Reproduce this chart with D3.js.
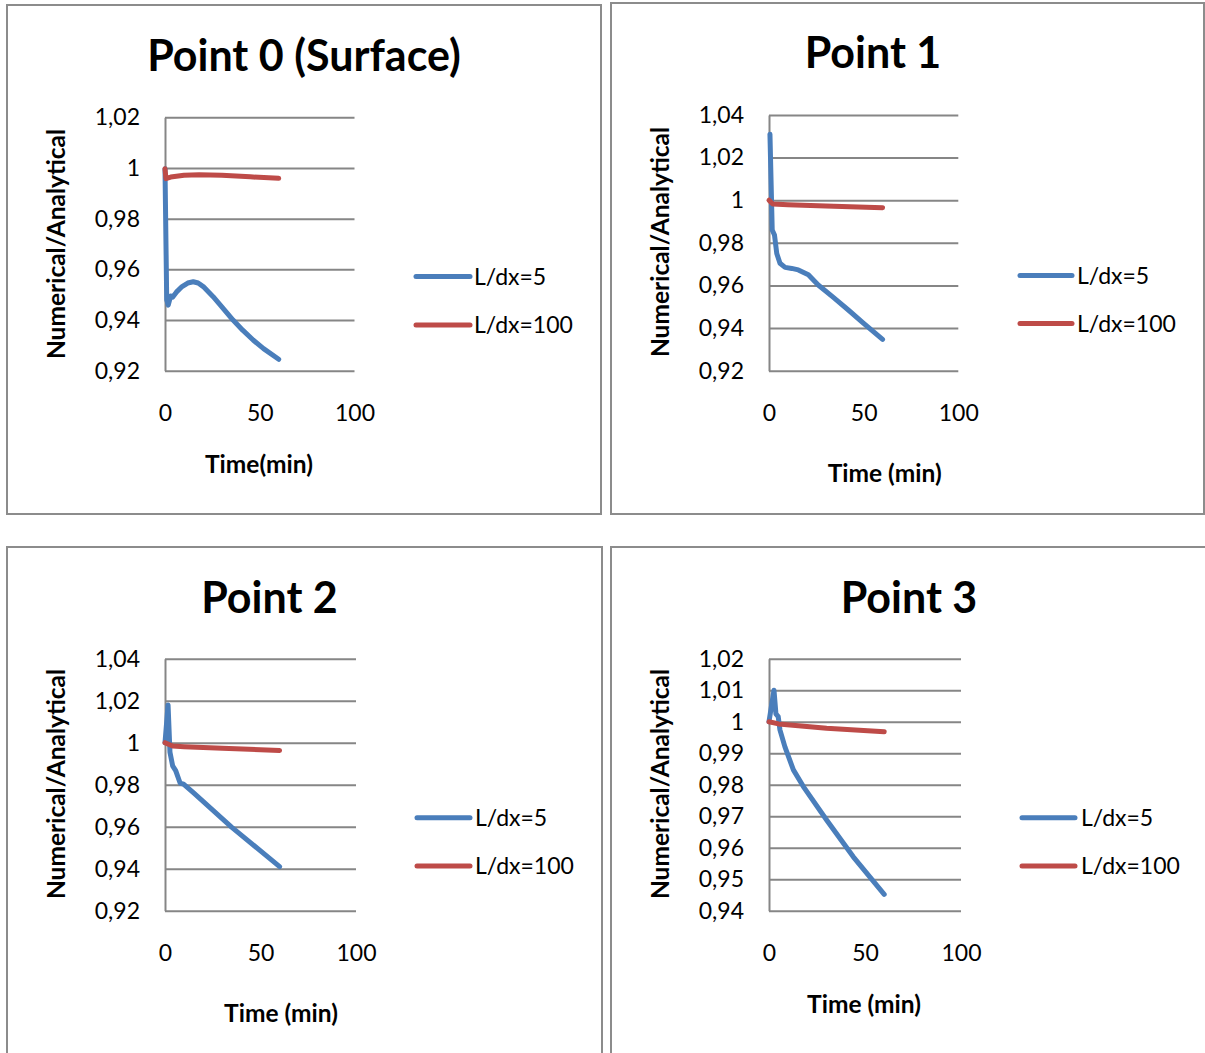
<!DOCTYPE html>
<html>
<head>
<meta charset="utf-8">
<script src="https://cdn.jsdelivr.net/npm/d3@7"></script>
<style>
  html, body { margin: 0; padding: 0; background: #fff; }
  svg { display: block; font-family: Lato, "Open Sans", sans-serif; }
</style>
</head>
<body>
<svg id="chart" width="1205" height="1053"></svg>
<script>
// ---- Data: ratio of numerical to analytical solution over time (min) ----
const seriesNames = ["L/dx=5", "L/dx=100"];
const xTicks = [0, 50, 100];

// Point 0 (Surface)
const p0Time5   = [0, 0.9, 1.7, 3, 4, 6, 9, 12, 14.9, 17.5, 20.2, 25.4, 30, 35.9, 41, 46.5, 52, 60];
const p0Ratio5  = [0.9997, 0.9480, 0.9459, 0.9495, 0.9490, 0.9510, 0.9532, 0.9546, 0.9551, 0.9546, 0.9532, 0.9492, 0.9452, 0.9400, 0.9360, 0.9321, 0.9287, 0.9245];
const p0Time100  = [0, 0.5, 3, 10, 18, 30, 45, 60];
const p0Ratio100 = [0.9997, 0.9958, 0.9964, 0.9971, 0.9973, 0.9971, 0.9965, 0.9959];
const p0YTicks = [0.92, 0.94, 0.96, 0.98, 1.00, 1.02];

// Point 1
const p1Time5   = [0.5, 1.7, 2.9, 4.1, 5.8, 8.5, 12, 15.5, 20.8, 26, 34, 41.9, 50, 60];
const p1Ratio5  = [1.031, 0.986, 0.9837, 0.975, 0.9704, 0.9685, 0.9680, 0.9673, 0.965, 0.9602, 0.9544, 0.9485, 0.9422, 0.9347];
const p1Time100  = [0, 2, 10, 30, 60];
const p1Ratio100 = [1.0, 0.9982, 0.9979, 0.9973, 0.9965];
const p1YTicks = [0.92, 0.94, 0.96, 0.98, 1.00, 1.02, 1.04];

// Point 2
const p2Time5   = [0, 1.6, 2.6, 4, 5.6, 7.9, 9.7, 14.7, 35, 60];
const p2Ratio5  = [1.0, 1.018, 0.9954, 0.989, 0.9867, 0.9808, 0.9803, 0.9763, 0.9597, 0.941];
const p2Time100  = [0, 4, 10, 30, 60];
const p2Ratio100 = [1.0, 0.9984, 0.9981, 0.9974, 0.9963];
const p2YTicks = [0.92, 0.94, 0.96, 0.98, 1.00, 1.02, 1.04];

// Point 3
const p3Time5   = [0, 2.6, 3.6, 4.8, 5.7, 8.3, 12.7, 17.9, 30, 43.9, 60];
const p3Ratio5  = [1.0, 1.0100, 1.0025, 1.0016, 0.9974, 0.992, 0.9847, 0.9794, 0.9688, 0.9571, 0.9452];
const p3Time100  = [0, 5, 30, 60];
const p3Ratio100 = [1.0, 0.9993, 0.9979, 0.9968];
const p3YTicks = [0.94, 0.95, 0.96, 0.97, 0.98, 0.99, 1.00, 1.01, 1.02];

// ---- Panel definitions (data) ----
const panels = [
  { title: "Point 0 (Surface)", xTitle: "Time(min)", yTicks: p0YTicks,
    series: [[p0Time5, p0Ratio5], [p0Time100, p0Ratio100]] },
  { title: "Point 1", xTitle: "Time (min)", yTicks: p1YTicks,
    series: [[p1Time5, p1Ratio5], [p1Time100, p1Ratio100]] },
  { title: "Point 2", xTitle: "Time (min)", yTicks: p2YTicks,
    series: [[p2Time5, p2Ratio5], [p2Time100, p2Ratio100]] },
  { title: "Point 3", xTitle: "Time (min)", yTicks: p3YTicks,
    series: [[p3Time5, p3Ratio5], [p3Time100, p3Ratio100]] }
];

// ---- Layout of each chart box ----
const layout = [
  { box: [7, 5, 594, 509],   plot: [165, 117.3, 354.5, 370.7], titleX: 304, titleY: 71,
    yTitleX: 65, yTitleY: 244, xTitleX: 259, xTitleY: 473,
    legX: [416, 470], legY: [276.5, 325], legTextX: 474 },
  { box: [611, 3, 593, 511], plot: [769, 115, 958.3, 370.7], titleX: 873, titleY: 68.3,
    yTitleX: 669, yTitleY: 242, xTitleX: 884.7, xTitleY: 481.7,
    legX: [1020, 1072], legY: [275.5, 323.5], legTextX: 1077 },
  { box: [7, 547, 595, 530], plot: [165, 658.7, 356, 910.7], titleX: 269.5, titleY: 612.7,
    yTitleX: 65, yTitleY: 784, xTitleX: 281, xTitleY: 1021.7,
    legX: [417, 470], legY: [817.7, 866], legTextX: 475 },
  { box: [611, 547, 620, 530], plot: [769, 658.7, 961, 910.7], titleX: 909, titleY: 612.7,
    yTitleX: 669, yTitleY: 784, xTitleX: 864, xTitleY: 1013.3,
    legX: [1022, 1075], legY: [817.7, 866], legTextX: 1081 }
];

const colors = ["#4a7ebb", "#be4b48"];
const gridColor = "#868686";
const commaLocale = d3.formatLocale({ decimal: ",", thousands: ".", grouping: [3], currency: ["", ""] });
const yFmt = commaLocale.format(".2~f");

const svg = d3.select("#chart");

panels.forEach((p, i) => {
  const L = layout[i];
  const g = svg.append("g");

  // Chart frame
  g.append("rect")
    .attr("x", L.box[0]).attr("y", L.box[1])
    .attr("width", L.box[2]).attr("height", L.box[3])
    .attr("fill", "#fff").attr("stroke", "#8c8c8c").attr("stroke-width", 2);

  const [x0, y0, x1, y1] = L.plot;
  const x = d3.scaleLinear().domain([0, 100]).range([x0, x1]);
  const y = d3.scaleLinear().domain(d3.extent(p.yTicks)).range([y1, y0]);

  // Y axis with horizontal gridlines
  const yAxis = g.append("g")
    .attr("transform", `translate(${x0},0)`)
    .call(d3.axisLeft(y).tickValues(p.yTicks).tickFormat(yFmt)
      .tickSizeInner(-(x1 - x0)).tickSizeOuter(0).tickPadding(25));
  yAxis.selectAll("path.domain").attr("stroke", gridColor).attr("stroke-width", 2);
  yAxis.selectAll(".tick line").attr("stroke", gridColor).attr("stroke-width", 2);
  yAxis.selectAll(".tick text")
    .attr("fill", "#000").style("font-size", "23px").style("font-family", "Lato");

  // X axis labels
  const xAxis = g.append("g")
    .attr("transform", `translate(0,${y1})`)
    .call(d3.axisBottom(x).tickValues(xTicks).tickSize(0).tickFormat(d3.format("d")));
  xAxis.select("path.domain").remove();
  xAxis.selectAll(".tick text")
    .attr("y", 50.5).attr("dy", null)
    .attr("fill", "#000").style("font-size", "23px").style("font-family", "Lato");

  // Series lines
  const line = d3.line().x(d => x(d[0])).y(d => y(d[1]));
  p.series.forEach(([t, v], k) => {
    g.append("path")
      .datum(d3.zip(t, v))
      .attr("d", line)
      .attr("fill", "none")
      .attr("stroke", colors[k])
      .attr("stroke-width", 5)
      .attr("stroke-linejoin", "round")
      .attr("stroke-linecap", "round");
  });

  // Titles
  g.append("text")
    .attr("x", L.titleX).attr("y", L.titleY)
    .attr("text-anchor", "middle")
    .style("font-size", "43px").style("font-weight", "bold")
    .text(p.title);

  g.append("text")
    .attr("transform", `translate(${L.yTitleX},${L.yTitleY}) rotate(-90)`)
    .attr("text-anchor", "middle")
    .style("font-size", "24.5px").style("font-weight", "bold")
    .text("Numerical/Analytical");

  g.append("text")
    .attr("x", L.xTitleX).attr("y", L.xTitleY)
    .attr("text-anchor", "middle")
    .style("font-size", "24.5px").style("font-weight", "bold")
    .text(p.xTitle);

  // Legend
  seriesNames.forEach((name, k) => {
    g.append("line")
      .attr("x1", L.legX[0]).attr("x2", L.legX[1])
      .attr("y1", L.legY[k]).attr("y2", L.legY[k])
      .attr("stroke", colors[k]).attr("stroke-width", 5)
      .attr("stroke-linecap", "round");
    g.append("text")
      .attr("x", L.legTextX).attr("y", L.legY[k])
      .attr("dy", "0.35em")
      .style("font-size", "23px")
      .text(name);
  });
});
</script>
</body>
</html>
